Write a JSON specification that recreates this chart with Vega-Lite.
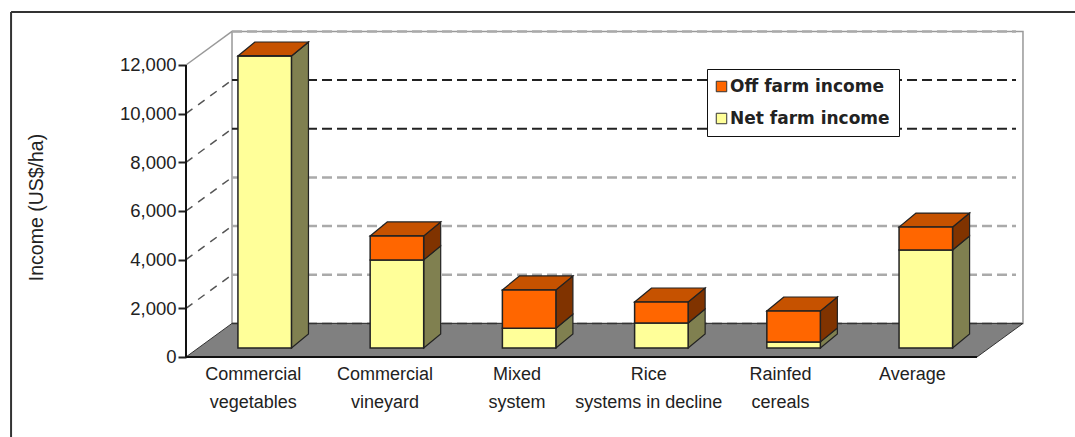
{"$schema":"https://vega.github.io/schema/vega-lite/v6.json","width":1075,"height":437,"padding":0,"autosize":{"type":"none"},"background":"white","config":{"view":{"stroke":null}},
"datasets":{"rows":[
{"category":"Commercial\nvegetables","series":"Net farm income","value":12000},{"category":"Commercial\nvegetables","series":"Off farm income","value":0},
{"category":"Commercial\nvineyard","series":"Net farm income","value":3620},{"category":"Commercial\nvineyard","series":"Off farm income","value":985},
{"category":"Mixed\nsystem","series":"Net farm income","value":810},{"category":"Mixed\nsystem","series":"Off farm income","value":1575},
{"category":"Rice\nsystems in decline","series":"Net farm income","value":1030},{"category":"Rice\nsystems in decline","series":"Off farm income","value":860},
{"category":"Rainfed\ncereals","series":"Net farm income","value":250},{"category":"Rainfed\ncereals","series":"Off farm income","value":1270},
{"category":"Average","series":"Net farm income","value":4030},{"category":"Average","series":"Off farm income","value":940}],
"levels":[{"level":2000},{"level":4000},{"level":6000},{"level":8000},{"level":10000},{"level":12000}]},
"encoding":{"x":{"field":"x","type":"quantitative","axis":null,"scale":{"domain":[-1.4109,6.7436],"nice":false,"zero":false}},
"y":{"field":"y","type":"quantitative","scale":{"domain":[-3288,14671],"nice":false,"zero":false},"axis":{"values":[0,2000,4000,6000,8000,10000,12000],"format":",.0f","offset":-186,"domain":false,"grid":false,"ticks":true,"tickSize":8,"tickWidth":2,"tickColor":"#222","labelFont":"Liberation Sans","labelFontSize":18.5,"labelColor":"#222","labelPadding":2,"title":"Income (US$/ha)","titleFont":"Liberation Sans","titleFontSize":19.5,"titleFontWeight":"normal","titleColor":"#222","titleX":-140,"titleY":207,"titleAngle":-90,"titleAlign":"center","titleBaseline":"bottom"}}},
"layer":[
{"data":{"values":[{"k":1}]},"transform":[{"calculate":"-1.327","as":"x"},{"calculate":"-3288","as":"y"},{"calculate":"14178","as":"y2"}],"mark":{"type":"rule","stroke":"#333","strokeWidth":2},"encoding":{"y2":{"field":"y2"}}},
{"data":{"values":[{"k":1}]},"transform":[{"calculate":"-1.327","as":"x"},{"calculate":"6.7436","as":"x2"},{"calculate":"14178","as":"y"}],"mark":{"type":"rule","stroke":"#333","strokeWidth":2},"encoding":{"x2":{"field":"x2"}}},
{"data":{"values":[{"k":1}]},"transform":[{"calculate":"0.349","as":"x"},{"calculate":"6.349","as":"x2"},{"calculate":"1380","as":"y"},{"calculate":"13380","as":"y2"}],"mark":{"type":"rect","fill":"white","stroke":"#999","strokeWidth":1.5},"encoding":{"x2":{"field":"x2"},"y2":{"field":"y2"}}},
{"data":{"name":"levels"},"transform":[{"filter":"datum.level==8000||datum.level==10000"},{"calculate":"0.349","as":"x"},{"calculate":"6.296","as":"x2"},{"calculate":"datum.level+1380","as":"y"},{"calculate":"datum.y","as":"y2"}],"mark":{"type":"rule","stroke":"#222","strokeWidth":2,"strokeDash":[10,5]},"encoding":{"x2":{"field":"x2"},"y2":{"field":"y2"}}},
{"data":{"name":"levels"},"transform":[{"filter":"datum.level!=8000&&datum.level!=10000"},{"calculate":"0.349","as":"x"},{"calculate":"6.296","as":"x2"},{"calculate":"datum.level+1380","as":"y"},{"calculate":"datum.y","as":"y2"}],"mark":{"type":"rule","stroke":"#aaa","strokeWidth":2.5,"strokeDash":[10,5]},"encoding":{"x2":{"field":"x2"},"y2":{"field":"y2"}}},
{"data":{"name":"levels"},"transform":[{"filter":"datum.level<12000"},{"calculate":"0","as":"x"},{"calculate":"0.349","as":"x2"},{"calculate":"datum.level","as":"y"},{"calculate":"datum.level+1380","as":"y2"}],"mark":{"type":"rule","stroke":"#555","strokeWidth":1.5,"strokeDash":[8,7]},"encoding":{"x2":{"field":"x2"},"y2":{"field":"y2"}}},
{"data":{"name":"levels"},"transform":[{"filter":"datum.level==12000"},{"calculate":"0","as":"x"},{"calculate":"0.349","as":"x2"},{"calculate":"datum.level","as":"y"},{"calculate":"datum.level+1380","as":"y2"}],"mark":{"type":"rule","stroke":"#999","strokeWidth":1.5},"encoding":{"x2":{"field":"x2"},"y2":{"field":"y2"}}},
{"data":{"values":[{"t":0},{"t":1}]},"transform":[{"calculate":"datum.t*0.349","as":"x"},{"calculate":"6+datum.t*0.349","as":"x2"},{"calculate":"datum.t*1380","as":"y"}],"mark":{"type":"area","orient":"horizontal","fill":"#808080","stroke":"#333","strokeWidth":1},"encoding":{"x2":{"field":"x2"}}},
{"data":{"values":[{"k":1}]},"transform":[{"calculate":"0.349","as":"x"},{"calculate":"6.349","as":"x2"},{"calculate":"1380","as":"y"}],"mark":{"type":"rule","stroke":"#333","strokeWidth":1.5,"strokeDash":[10,5]},"encoding":{"x2":{"field":"x2"}}},
{"data":{"values":[{"k":1}]},"transform":[{"calculate":"0","as":"x"},{"calculate":"6","as":"x2"},{"calculate":"0","as":"y"}],"mark":{"type":"rule","stroke":"#111","strokeWidth":2},"encoding":{"x2":{"field":"x2"}}},
{"data":{"values":[{"k":1}]},"transform":[{"calculate":"0","as":"x"},{"calculate":"0","as":"y"},{"calculate":"12000","as":"y2"}],"mark":{"type":"rule","stroke":"#111","strokeWidth":2},"encoding":{"y2":{"field":"y2"}}},
{"data":{"name":"rows"},"transform":[{"stack":"value","groupby":["category"],"sort":[{"field":"series","order":"ascending"}],"as":["s0","s1"]},{"filter":"datum.series=='Net farm income'"},{"calculate":"indexof(['Commercial\\nvegetables','Commercial\\nvineyard','Mixed\\nsystem','Rice\\nsystems in decline','Rainfed\\ncereals','Average'],datum.category)","as":"i"},{"calculate":"[0,1]","as":"t"},{"flatten":["t"]},{"calculate":"0.394+datum.i*1.003+0.406+datum.t*0.129","as":"x"},{"calculate":"datum.s0+370+datum.t*575","as":"y"},{"calculate":"datum.s1+370+datum.t*575","as":"y2"}],"mark":{"type":"area","orient":"vertical","fill":"#808050","stroke":"#222","strokeWidth":1.2},"encoding":{"y2":{"field":"y2"},"detail":{"field":"category"}}},
{"data":{"name":"rows"},"transform":[{"stack":"value","groupby":["category"],"sort":[{"field":"series","order":"ascending"}],"as":["s0","s1"]},{"filter":"datum.series=='Off farm income'"},{"calculate":"indexof(['Commercial\\nvegetables','Commercial\\nvineyard','Mixed\\nsystem','Rice\\nsystems in decline','Rainfed\\ncereals','Average'],datum.category)","as":"i"},{"calculate":"[0,1]","as":"t"},{"flatten":["t"]},{"calculate":"0.394+datum.i*1.003+0.406+datum.t*0.129","as":"x"},{"calculate":"datum.s0+370+datum.t*575","as":"y"},{"calculate":"datum.s1+370+datum.t*575","as":"y2"}],"mark":{"type":"area","orient":"vertical","fill":"#803300","stroke":"#222","strokeWidth":1.2},"encoding":{"y2":{"field":"y2"},"detail":{"field":"category"}}},
{"data":{"name":"rows"},"transform":[{"stack":"value","groupby":["category"],"sort":[{"field":"series","order":"ascending"}],"as":["s0","s1"]},{"filter":"datum.series=='Off farm income'"},{"calculate":"indexof(['Commercial\\nvegetables','Commercial\\nvineyard','Mixed\\nsystem','Rice\\nsystems in decline','Rainfed\\ncereals','Average'],datum.category)","as":"i"},{"calculate":"[0,1]","as":"t"},{"flatten":["t"]},{"calculate":"0.394+datum.i*1.003+datum.t*0.129","as":"x"},{"calculate":"datum.x+0.406","as":"x2"},{"calculate":"datum.s1+370+datum.t*575","as":"y"}],"mark":{"type":"area","orient":"horizontal","fill":"#C65200","stroke":"#222","strokeWidth":1.2},"encoding":{"x2":{"field":"x2"},"detail":{"field":"category"}}},
{"data":{"name":"rows"},"transform":[{"stack":"value","groupby":["category"],"sort":[{"field":"series","order":"ascending"}],"as":["s0","s1"]},{"calculate":"indexof(['Commercial\\nvegetables','Commercial\\nvineyard','Mixed\\nsystem','Rice\\nsystems in decline','Rainfed\\ncereals','Average'],datum.category)","as":"i"},{"calculate":"0.394+datum.i*1.003","as":"x"},{"calculate":"datum.x+0.406","as":"x2"},{"calculate":"datum.s0+370","as":"y"},{"calculate":"datum.s1+370","as":"y2"}],"mark":{"type":"rect","stroke":"#222","strokeWidth":1.5},"encoding":{"x2":{"field":"x2"},"y2":{"field":"y2"},"color":{"field":"series","type":"nominal","scale":{"domain":["Off farm income","Net farm income"],"range":["#FF6600","#FFFF99"]},"legend":{"title":null,"orient":"none","legendX":707,"legendY":69,"symbolType":"square","symbolSize":110,"symbolStrokeColor":"#333","symbolStrokeWidth":1,"symbolOffset":-3,"labelFont":"DejaVu Sans","labelFontSize":17,"labelFontWeight":"bold","labelColor":"#222","labelLimit":300,"strokeColor":"#111","fillColor":"white","padding":9,"rowPadding":14,"labelOffset":0}}}},
{"data":{"name":"rows"},"transform":[{"filter":"datum.series=='Net farm income'"},{"calculate":"indexof(['Commercial\\nvegetables','Commercial\\nvineyard','Mixed\\nsystem','Rice\\nsystems in decline','Rainfed\\ncereals','Average'],datum.category)+0.51","as":"x"},{"calculate":"0","as":"y"}],"mark":{"type":"text","font":"Liberation Sans","fontSize":18,"color":"#222","lineBreak":"\n","lineHeight":28,"align":"center","baseline":"alphabetic","dy":23},"encoding":{"text":{"field":"category"}}}
]}
